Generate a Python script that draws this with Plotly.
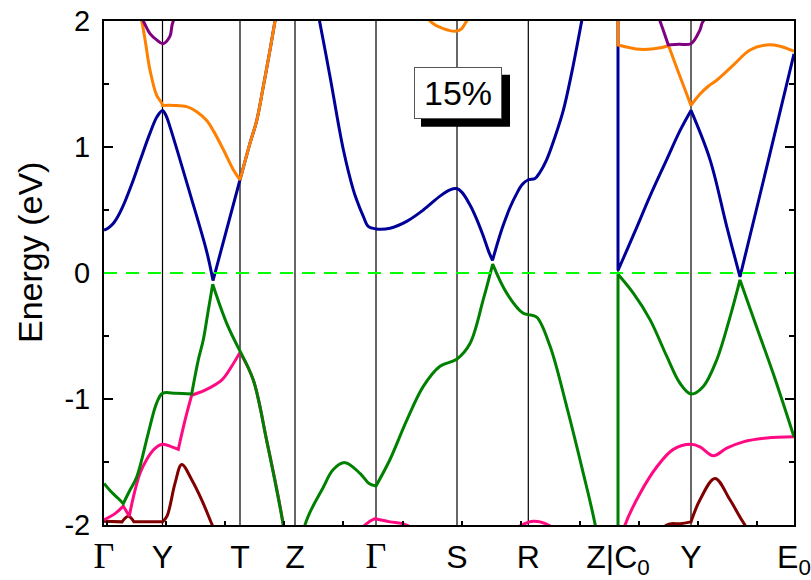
import plotly.graph_objects as go

# High-symmetry points (k-path coordinate) and labels
kpts = [0, 58.5, 136, 191, 272, 353, 424.3, 514, 587, 690]
gamma = '<span style="font-family:\'Liberation Serif\';font-size:36px">Γ</span>'
klabels = [gamma, "Y", "T", "Z", gamma, "S", "R", "Z|C<sub>0</sub>", "Y", "E<sub>0</sub>"]

fermi = 0.0
yticks = [-2, -1, 0, 1, 2]
yticklabels = ["-2", "-1", "0", "1", "2"]

blue_k = [0, 4, 9, 14, 19, 28, 36, 46, 53, 58.5, 62, 66, 86, 102.7, 109, 136, 146, 152.7, 159.3, 166, 171, 180, 191,
          215.3, 226, 239.3, 249.3, 252.7, 259.3, 264.3, 272, 286, 302.7, 319.3, 336, 346, 352.7,
          358, 366, 372, 379, 384.7, 388.5, 394, 399.3, 406, 412.7, 418, 424.3, 431, 436, 442.7, 451, 459.3, 468, 477.7,
          514, 514, 531, 546, 562.7, 576, 587, 606, 622.7, 636, 663, 690]
blue_E = [0.34, 0.355, 0.39, 0.45, 0.53, 0.71, 0.89, 1.11, 1.24, 1.29, 1.25, 1.16, 0.63, 0.17, -0.06, 0.74, 1.03, 1.21, 1.48, 1.77, 2.0, 2.4, 3.0,
          2.01, 1.56, 0.98, 0.66, 0.58, 0.45, 0.37, 0.35, 0.355, 0.41, 0.50, 0.61, 0.66, 0.67,
          0.64, 0.54, 0.44, 0.30, 0.17, 0.10, 0.25, 0.38, 0.52, 0.63, 0.70, 0.74, 0.75, 0.80, 0.90, 1.08, 1.29, 1.6, 2.0,
          3.6, 0.02, 0.33, 0.61, 0.90, 1.13, 1.29, 0.90, 0.37, -0.03, 0.85, 1.74]
blue_kinks = [109, 136, 191, 388.5, 514, 587, 636]

orange_k = [0, 37.7, 46, 52.7, 57.7, 58.5, 70, 82.7, 92.7, 102.7, 110, 119.3, 129.3, 136, 146, 152.7, 159.3, 166, 171, 191,
            272, 326, 339.3, 352.7, 357.7, 362.7, 424.3, 514, 514, 536, 550, 562.7, 564.3, 576, 587,
            596, 604, 612.7, 629.3, 646, 662.7, 676, 690]
orange_E = [3.2, 2.0, 1.61, 1.41, 1.35, 1.33, 1.33, 1.32, 1.28, 1.21, 1.12, 0.98, 0.82, 0.74, 1.03, 1.21, 1.48, 1.77, 2.0, 3.0,
            2.8, 2.0, 1.94, 1.92, 1.94, 2.0, 2.6, 3.8, 1.81, 1.775, 1.78, 1.80, 1.81, 1.56, 1.33,
            1.42, 1.48, 1.53, 1.65, 1.77, 1.81, 1.80, 1.76]
orange_kinks = [58.5, 136, 191, 272, 514, 564.3, 587]

purple_k = [0, 39.3, 46, 52.7, 59, 66, 69.3, 136, 514, 556, 564.3, 575, 587, 596, 599.3, 690]
purple_E = [2.6, 2.0, 1.90, 1.85, 1.82, 1.88, 2.0, 2.8, 2.9, 2.0, 1.81, 1.815, 1.82, 1.93, 2.0, 2.6]
purple_kinks = [136, 514, 564.3]

green_k = [0, 7.7, 14.3, 19.3, 25.5, 32.7, 44.3, 52.7, 58.5, 72, 87.7, 94.3, 99.3, 104, 108.7,
           122.7, 136, 149.3, 162.7, 179.3, 191, 201, 219.3, 229.3, 241, 256, 265, 272,
           286, 302.7, 319.3, 336, 352.7, 366, 379.3, 388.7, 402.7, 419.3, 424.3, 432.7,
           446, 462.7, 479.3, 491, 514, 514, 529.3, 546, 562.7, 576, 587,
           599.3, 612.7, 626, 636, 652.7, 669.3, 690]
green_E = [-1.67, -1.74, -1.79, -1.83, -1.73, -1.62, -1.27, -1.03, -0.955, -0.955, -0.96, -0.69, -0.53, -0.31, -0.09,
           -0.40, -0.62, -0.85, -1.33, -2.0, -2.6, -2.0, -1.70, -1.56, -1.505, -1.59, -1.67, -1.69,
           -1.48, -1.17, -0.90, -0.74, -0.685, -0.56, -0.21, 0.07, -0.16, -0.32, -0.33, -0.35,
           -0.58, -1.06, -1.59, -1.99, -3.0, -0.01, -0.16, -0.37, -0.66, -0.875, -0.96,
           -0.90, -0.69, -0.35, -0.055, -0.43, -0.80, -1.30]
green_kinks = [19.3, 87.7, 108.7, 136, 191, 272, 388.7, 514, 636]

pink_k = [0, 11, 19.3, 25.3, 29.3, 36, 42.7, 50, 58.5, 67.7, 74.3, 81, 87.7, 101, 117.7, 127.7, 136,
          149.3, 162.7, 179.3, 191, 261, 271, 286, 302.7, 352.7, 417.7, 429.3, 444.3, 514, 514,
          521, 536, 552.7, 569.3, 587, 596, 609.3, 622.7, 639.3, 662.7, 690]
pink_E = [-1.96, -1.91, -1.85, -1.93, -1.78, -1.59, -1.48, -1.40, -1.36, -1.38, -1.40, -1.17, -0.97, -0.93, -0.85, -0.74, -0.63,
          -0.85, -1.33, -2.0, -2.8, -2.0, -1.95, -1.975, -2.0, -2.3, -2.0, -1.97, -2.0, -2.5, -2.2,
          -2.0, -1.75, -1.54, -1.40, -1.36, -1.38, -1.45, -1.39, -1.34, -1.31, -1.30]
pink_kinks = [19.3, 25.3, 74.3, 87.7, 136, 191, 271, 514]

brown_k = [0, 18, 24.3, 30, 58.5, 63, 71, 77.7, 87.7, 97.7, 107.7, 136, 514, 562.7, 576, 587, 596, 611, 626, 641, 690]
brown_E = [-1.97, -1.975, -1.93, -1.975, -1.975, -1.93, -1.67, -1.52, -1.64, -1.80, -1.99, -2.5, -2.5, -2.0, -1.99, -1.975,
           -1.80, -1.63, -1.80, -2.0, -2.5]
brown_kinks = [18, 30, 58.5, 587]

strain_label = "15%"
label_k, label_E = 354, 1.43


def with_kinks(k, e, kinks):
    """Repeat points at band kinks so the spline keeps sharp corners there."""
    ks, es = [], []
    for a, b in zip(k, e):
        ks.append(a)
        es.append(b)
        if a in kinks:
            ks.append(a)
            es.append(b)
    return ks, es


bands = [
    (brown_k, brown_E, brown_kinks, "#800000"),
    (pink_k, pink_E, pink_kinks, "#ff0a82"),
    (green_k, green_E, green_kinks, "#008000"),
    (blue_k, blue_E, blue_kinks, "#000099"),
    (orange_k, orange_E, orange_kinks, "#ff8000"),
    (purple_k, purple_E, purple_kinks, "#800080"),
]

fig = go.Figure()
for k, e, kinks, c in bands:
    ks, es = with_kinks(k, e, kinks)
    fig.add_trace(go.Scatter(x=ks, y=es, mode="lines",
                             line=dict(color=c, width=3, shape="spline", smoothing=1.0, simplify=False),
                             showlegend=False, hoverinfo="skip"))

shapes = []
for kp in kpts[1:-1]:
    shapes.append(dict(type="line", xref="x", yref="paper", x0=kp, x1=kp, y0=0, y1=1,
                       line=dict(color="black", width=1.2), layer="below"))
shapes.append(dict(type="line", xref="paper", yref="y", x0=0, x1=1, y0=fermi, y1=fermi,
                   line=dict(color="#00ff00", width=2, dash="13px,9px"), layer="above"))
# drop shadow of the strain label box
shapes.append(dict(type="rect", xref="x", yref="y", xsizemode="pixel", ysizemode="pixel",
                   xanchor=label_k, yanchor=label_E, x0=-37, x1=52, y0=-34, y1=18,
                   fillcolor="black", line=dict(width=0), layer="above"))

font_main = "Liberation Sans, Arial, sans-serif"

fig.update_layout(
    width=811, height=580, autosize=False,
    margin=dict(l=104, r=17, t=21, b=55),
    paper_bgcolor="white", plot_bgcolor="white",
    font=dict(family=font_main, color="black"),
    shapes=shapes,
    xaxis=dict(range=[kpts[0], kpts[-1]], tickmode="array", tickvals=kpts, ticktext=klabels,
               ticks="", showgrid=False, zeroline=False, showline=True, linecolor="black",
               linewidth=2, mirror=True, tickfont=dict(size=32, family=font_main),
               ticklabelstandoff=3, automargin=False,
               minor=dict(tickmode="linear", tick0=3, dtick=59.1, ticks="inside", ticklen=4,
                          tickcolor="black", tickwidth=1.5, showgrid=False)),
    yaxis=dict(range=[-2, 2], tickmode="array", tickvals=yticks, ticktext=yticklabels,
               ticks="inside", ticklen=9, tickwidth=2, tickcolor="black",
               showgrid=False, zeroline=False, showline=True, linecolor="black", linewidth=2,
               mirror="ticks", tickfont=dict(size=29, family=font_main), ticklabelstandoff=6,
               automargin=False,
               minor=dict(tickmode="linear", tick0=-2, dtick=0.5, ticks="inside", ticklen=5,
                          tickcolor="black", tickwidth=2, showgrid=False)),
    annotations=[
        dict(text="Energy (eV)", xref="paper", yref="paper", x=-0.107, y=0.54, textangle=-90,
             showarrow=False, font=dict(size=34, family=font_main), xanchor="center", yanchor="middle"),
        dict(text=strain_label, xref="x", yref="y", x=label_k, y=label_E, showarrow=False,
             font=dict(size=34, color="black", family=font_main), bgcolor="white", bordercolor="#555555",
             borderwidth=1, borderpad=1, width=84, height=48),
    ],
)

fig.write_html("out.html")
